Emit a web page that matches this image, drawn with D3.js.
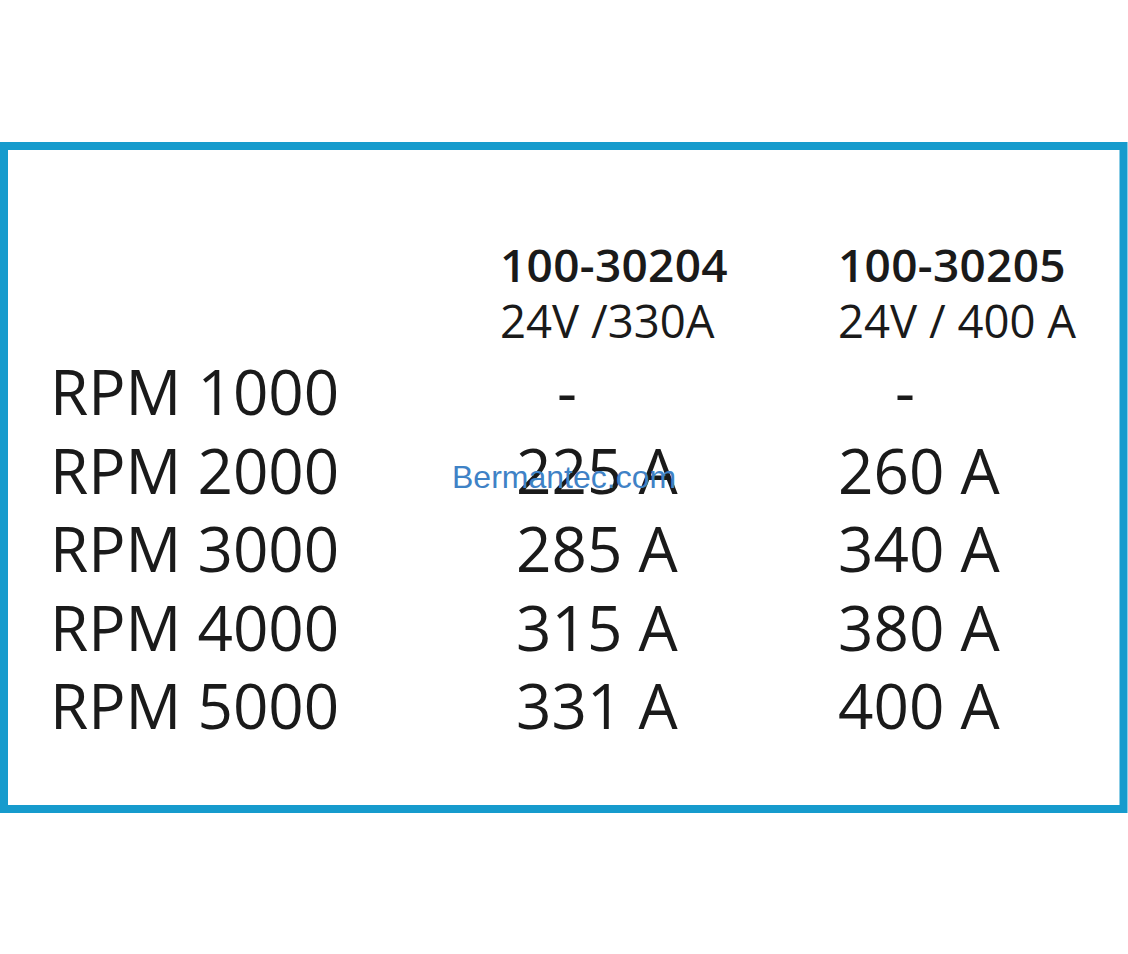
<!DOCTYPE html>
<html><head><meta charset="utf-8">
<script src="https://cdn.jsdelivr.net/npm/d3@7/dist/d3.min.js"></script>
<style>html,body{margin:0;padding:0;background:#fff;}svg{display:block;}</style>
</head><body>
<svg id="c" width="1128" height="954"></svg>
<script>
const rowLabels = ["RPM 1000", "RPM 2000", "RPM 3000", "RPM 4000", "RPM 5000"];
const models = ["100-30204", "100-30205"];
const ratings = ["24V /330A", "24V / 400 A"];
const series204 = [null, 225, 285, 315, 331];
const series205 = [null, 260, 340, 380, 400];
const unit = "A";
const watermark = "Bermantec.com";

const svg = d3.select("#c");
const font = "'Open Sans', 'Noto Sans', sans-serif";

// frame
svg.append("rect").attr("x", 4).attr("y", 146).attr("width", 1119.5).attr("height", 663)
  .attr("fill", "#fff").attr("stroke", "#169bcd").attr("stroke-width", 8);

const x = d3.scaleBand().domain(models).range([500, 1176]).paddingInner(0);
const y = d3.scalePoint().domain(rowLabels).range([415, 729]);

// headers
const hdr = svg.append("g");
hdr.selectAll("text.model").data(models).join("text").attr("class","model")
  .attr("x", d => x(d)).attr("y", 282)
  .attr("font-family", font).attr("font-weight", 600).attr("font-size", 46)
  .attr("letter-spacing", 0.3)
  .attr("fill", "#1a1a1a").text(d => d);
hdr.selectAll("text.rating").data(ratings).join("text").attr("class","rating")
  .attr("x", (d, i) => x(models[i])).attr("y", 338)
  .attr("font-family", font).attr("font-size", 45.5)
  .attr("fill", "#1a1a1a").text(d => d);

// row labels
svg.selectAll("text.row").data(rowLabels).join("text").attr("class","row")
  .attr("x", 50).attr("y", d => y(d))
  .attr("font-family", font).attr("font-size", 62)
  .attr("fill", "#1a1a1a").text(d => d);

// values
const cols = [series204, series205];
const valueShift = [16, 0];
const dashShift = [51, 67];
cols.forEach((s, ci) => {
  const x0 = x(models[ci]) + valueShift[ci];
  svg.append("g").selectAll("text").data(s).join("text")
    .attr("x", d => d == null ? x0 + dashShift[ci] : x0)
    .attr("y", (d, i) => y(rowLabels[i]))
    .attr("text-anchor", d => d == null ? "middle" : "start")
    .attr("font-family", font).attr("font-size", 62)
    .attr("fill", "#1a1a1a")
    .text(d => d == null ? "-" : d + " " + unit);
});

// watermark
svg.append("text").attr("x", 452).attr("y", 488)
  .attr("font-family", "'Liberation Sans', Arial, sans-serif").attr("font-size", 32)
  .attr("fill", "#3f82c6").text(watermark);
</script>
</body></html>
